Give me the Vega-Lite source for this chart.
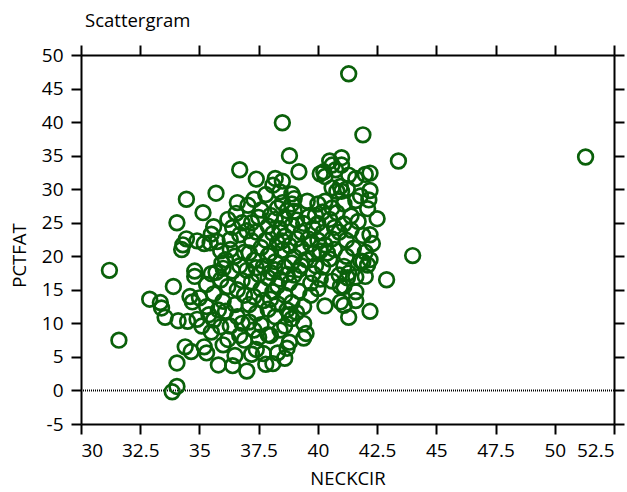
{
  "$schema": "https://vega.github.io/schema/vega-lite/v6.json",
  "width": 533,
  "height": 369,
  "autosize": {"type": "none"},
  "padding": {"left": 81, "top": 55, "right": 13, "bottom": 68},
  "background": "white",
  "title": {"text": "Scattergram", "anchor": "start", "frame": "group", "font": "Open Sans", "fontSize": 18.5, "fontWeight": "normal", "color": "black", "dx": 4, "offset": 14},
  "config": {
    "view": {"stroke": null},
    "axis": {"grid": false, "domainColor": "black", "domainWidth": 2, "tickColor": "black", "tickWidth": 2, "tickSize": 10, "labelFont": "Open Sans", "labelFontSize": 19, "labelColor": "black", "titleFont": "Open Sans", "titleFontSize": 18.5, "titleFontWeight": "normal", "titleColor": "black"}
  },
  "data": {"values": [
    {"NECKCIR":31.2,"PCTFAT":17.9},{"NECKCIR":31.6,"PCTFAT":7.5},{"NECKCIR":32.9,"PCTFAT":13.6},{"NECKCIR":33.35,"PCTFAT":13.1},{"NECKCIR":33.55,"PCTFAT":10.9},{"NECKCIR":33.9,"PCTFAT":15.5},{"NECKCIR":33.85,"PCTFAT":-0.2},{"NECKCIR":34.05,"PCTFAT":0.6},{"NECKCIR":34.05,"PCTFAT":4.1},{"NECKCIR":33.4,"PCTFAT":12.3},
    {"NECKCIR":34.1,"PCTFAT":10.4},{"NECKCIR":34.5,"PCTFAT":10.3},{"NECKCIR":34.4,"PCTFAT":6.5},{"NECKCIR":34.65,"PCTFAT":5.8},{"NECKCIR":34.6,"PCTFAT":14.0},{"NECKCIR":34.8,"PCTFAT":17.0},{"NECKCIR":34.3,"PCTFAT":21.7},{"NECKCIR":34.25,"PCTFAT":21.0},{"NECKCIR":34.45,"PCTFAT":22.6},{"NECKCIR":34.05,"PCTFAT":25.0},{"NECKCIR":34.45,"PCTFAT":28.5},{"NECKCIR":34.9,"PCTFAT":10.6},{"NECKCIR":34.7,"PCTFAT":13.2},{"NECKCIR":34.9,"PCTFAT":22.3},{"NECKCIR":34.8,"PCTFAT":17.8},
    {"NECKCIR":35.2,"PCTFAT":6.5},{"NECKCIR":35.3,"PCTFAT":5.6},{"NECKCIR":35.8,"PCTFAT":3.8},{"NECKCIR":35.15,"PCTFAT":26.5},{"NECKCIR":35.7,"PCTFAT":29.4},{"NECKCIR":35.6,"PCTFAT":24.4},{"NECKCIR":35.45,"PCTFAT":22.0},{"NECKCIR":35.2,"PCTFAT":21.9},{"NECKCIR":35.75,"PCTFAT":22.2},{"NECKCIR":35.0,"PCTFAT":13.8},{"NECKCIR":35.3,"PCTFAT":12.5},{"NECKCIR":35.6,"PCTFAT":10.5},{"NECKCIR":35.1,"PCTFAT":9.6},{"NECKCIR":35.5,"PCTFAT":8.7},{"NECKCIR":35.9,"PCTFAT":9.5},{"NECKCIR":35.4,"PCTFAT":11.3},{"NECKCIR":35.8,"PCTFAT":12.0},{"NECKCIR":35.7,"PCTFAT":17.6},{"NECKCIR":35.5,"PCTFAT":17.4},{"NECKCIR":35.9,"PCTFAT":16.5},{"NECKCIR":35.9,"PCTFAT":20.8},{"NECKCIR":35.6,"PCTFAT":14.4},{"NECKCIR":35.3,"PCTFAT":15.8},{"NECKCIR":35.95,"PCTFAT":19.0},{"NECKCIR":35.5,"PCTFAT":23.3},
    {"NECKCIR":36.4,"PCTFAT":3.7},{"NECKCIR":37.0,"PCTFAT":2.9},{"NECKCIR":36.55,"PCTFAT":26.4},{"NECKCIR":36.4,"PCTFAT":24.3},{"NECKCIR":36.3,"PCTFAT":22.5},{"NECKCIR":36.7,"PCTFAT":23.2},{"NECKCIR":36.0,"PCTFAT":18.2},{"NECKCIR":36.2,"PCTFAT":15.5},{"NECKCIR":36.4,"PCTFAT":17.8},{"NECKCIR":36.1,"PCTFAT":19.5},{"NECKCIR":36.5,"PCTFAT":20.0},{"NECKCIR":36.3,"PCTFAT":21.0},{"NECKCIR":36.7,"PCTFAT":18.6},{"NECKCIR":36.8,"PCTFAT":16.4},{"NECKCIR":36.9,"PCTFAT":14.2},{"NECKCIR":36.5,"PCTFAT":12.8},{"NECKCIR":36.6,"PCTFAT":11.0},{"NECKCIR":36.3,"PCTFAT":9.6},{"NECKCIR":36.7,"PCTFAT":8.2},{"NECKCIR":36.9,"PCTFAT":7.5},{"NECKCIR":36.2,"PCTFAT":7.6},{"NECKCIR":36.0,"PCTFAT":6.8},{"NECKCIR":36.7,"PCTFAT":32.9},{"NECKCIR":36.0,"PCTFAT":13.3},{"NECKCIR":36.5,"PCTFAT":5.2},{"NECKCIR":36.8,"PCTFAT":10.0},{"NECKCIR":36.1,"PCTFAT":11.8},{"NECKCIR":36.6,"PCTFAT":15.0},{"NECKCIR":36.9,"PCTFAT":20.6},{"NECKCIR":36.2,"PCTFAT":25.5},{"NECKCIR":36.8,"PCTFAT":25.0},{"NECKCIR":36.6,"PCTFAT":28.0},
    {"NECKCIR":37.05,"PCTFAT":27.6},{"NECKCIR":37.2,"PCTFAT":5.4},{"NECKCIR":37.4,"PCTFAT":31.5},{"NECKCIR":37.3,"PCTFAT":9.0},{"NECKCIR":37.5,"PCTFAT":7.9},{"NECKCIR":37.4,"PCTFAT":6.1},{"NECKCIR":37.7,"PCTFAT":5.5},{"NECKCIR":37.8,"PCTFAT":3.9},{"NECKCIR":37.9,"PCTFAT":12.1},{"NECKCIR":37.4,"PCTFAT":11.5},{"NECKCIR":37.1,"PCTFAT":12.8},{"NECKCIR":37.3,"PCTFAT":14.0},{"NECKCIR":37.6,"PCTFAT":15.1},{"NECKCIR":37.2,"PCTFAT":16.2},{"NECKCIR":37.5,"PCTFAT":17.3},{"NECKCIR":37.9,"PCTFAT":16.8},{"NECKCIR":37.7,"PCTFAT":18.5},{"NECKCIR":37.3,"PCTFAT":19.4},{"NECKCIR":37.1,"PCTFAT":20.5},{"NECKCIR":37.6,"PCTFAT":21.3},{"NECKCIR":37.8,"PCTFAT":22.4},{"NECKCIR":37.4,"PCTFAT":23.6},{"NECKCIR":37.2,"PCTFAT":25.0},{"NECKCIR":37.5,"PCTFAT":25.8},{"NECKCIR":37.9,"PCTFAT":24.5},{"NECKCIR":37.8,"PCTFAT":29.2},{"NECKCIR":37.3,"PCTFAT":28.5},{"NECKCIR":37.1,"PCTFAT":10.2},{"NECKCIR":37.6,"PCTFAT":9.8},{"NECKCIR":37.9,"PCTFAT":8.3},{"NECKCIR":37.0,"PCTFAT":17.9},{"NECKCIR":37.4,"PCTFAT":18.3},{"NECKCIR":37.7,"PCTFAT":13.4},{"NECKCIR":37.9,"PCTFAT":20.1},{"NECKCIR":37.2,"PCTFAT":22.3},{"NECKCIR":37.6,"PCTFAT":26.9},{"NECKCIR":37.0,"PCTFAT":23.8},
    {"NECKCIR":38.3,"PCTFAT":5.6},{"NECKCIR":38.1,"PCTFAT":4.0},{"NECKCIR":38.6,"PCTFAT":4.8},{"NECKCIR":38.7,"PCTFAT":6.3},{"NECKCIR":38.8,"PCTFAT":7.2},{"NECKCIR":38.9,"PCTFAT":10.7},{"NECKCIR":38.2,"PCTFAT":11.0},{"NECKCIR":38.2,"PCTFAT":25.5},{"NECKCIR":38.4,"PCTFAT":24.1},{"NECKCIR":38.6,"PCTFAT":23.0},{"NECKCIR":38.3,"PCTFAT":22.0},{"NECKCIR":38.0,"PCTFAT":20.5},{"NECKCIR":38.5,"PCTFAT":20.9},{"NECKCIR":38.2,"PCTFAT":19.2},{"NECKCIR":38.6,"PCTFAT":18.4},{"NECKCIR":38.0,"PCTFAT":17.6},{"NECKCIR":38.4,"PCTFAT":16.6},{"NECKCIR":38.8,"PCTFAT":16.0},{"NECKCIR":38.1,"PCTFAT":14.7},{"NECKCIR":38.6,"PCTFAT":14.2},{"NECKCIR":38.9,"PCTFAT":13.1},{"NECKCIR":38.3,"PCTFAT":12.9},{"NECKCIR":38.7,"PCTFAT":12.0},{"NECKCIR":38.9,"PCTFAT":24.6},{"NECKCIR":38.7,"PCTFAT":26.8},{"NECKCIR":38.3,"PCTFAT":27.2},{"NECKCIR":38.5,"PCTFAT":28.0},{"NECKCIR":38.9,"PCTFAT":29.3},{"NECKCIR":38.1,"PCTFAT":30.6},{"NECKCIR":38.5,"PCTFAT":31.2},{"NECKCIR":38.2,"PCTFAT":31.6},{"NECKCIR":38.5,"PCTFAT":39.9},{"NECKCIR":38.8,"PCTFAT":35.0},{"NECKCIR":38.4,"PCTFAT":9.0},{"NECKCIR":38.0,"PCTFAT":8.2},{"NECKCIR":38.6,"PCTFAT":9.6},{"NECKCIR":38.1,"PCTFAT":23.4},{"NECKCIR":38.8,"PCTFAT":21.6},{"NECKCIR":38.9,"PCTFAT":19.0},{"NECKCIR":38.3,"PCTFAT":15.6},{"NECKCIR":38.7,"PCTFAT":17.3},{"NECKCIR":38.0,"PCTFAT":26.1},{"NECKCIR":38.6,"PCTFAT":25.6},{"NECKCIR":38.9,"PCTFAT":27.8},{"NECKCIR":38.4,"PCTFAT":29.6},{"NECKCIR":38.0,"PCTFAT":13.6},{"NECKCIR":38.8,"PCTFAT":11.3},{"NECKCIR":38.2,"PCTFAT":18.0},{"NECKCIR":38.5,"PCTFAT":22.3},
    {"NECKCIR":39.4,"PCTFAT":7.8},{"NECKCIR":39.5,"PCTFAT":8.5},{"NECKCIR":39.1,"PCTFAT":11.6},{"NECKCIR":39.4,"PCTFAT":12.5},{"NECKCIR":39.2,"PCTFAT":14.8},{"NECKCIR":39.0,"PCTFAT":17.2},{"NECKCIR":39.3,"PCTFAT":18.6},{"NECKCIR":39.0,"PCTFAT":19.9},{"NECKCIR":39.5,"PCTFAT":19.5},{"NECKCIR":39.3,"PCTFAT":21.2},{"NECKCIR":39.7,"PCTFAT":21.8},{"NECKCIR":39.1,"PCTFAT":22.6},{"NECKCIR":39.4,"PCTFAT":24.9},{"NECKCIR":39.6,"PCTFAT":25.9},{"NECKCIR":39.0,"PCTFAT":26.7},{"NECKCIR":39.0,"PCTFAT":28.6},{"NECKCIR":39.2,"PCTFAT":32.6},{"NECKCIR":39.9,"PCTFAT":26.1},{"NECKCIR":39.8,"PCTFAT":17.4},{"NECKCIR":39.7,"PCTFAT":16.0},{"NECKCIR":39.7,"PCTFAT":14.2},{"NECKCIR":39.55,"PCTFAT":28.2},{"NECKCIR":39.3,"PCTFAT":23.6},{"NECKCIR":39.8,"PCTFAT":20.4},{"NECKCIR":39.2,"PCTFAT":18.0},{"NECKCIR":39.6,"PCTFAT":22.6},{"NECKCIR":39.1,"PCTFAT":25.4},{"NECKCIR":39.8,"PCTFAT":24.2},{"NECKCIR":39.4,"PCTFAT":10.0},{"NECKCIR":39.9,"PCTFAT":18.6},
    {"NECKCIR":40.0,"PCTFAT":22.4},{"NECKCIR":40.3,"PCTFAT":21.7},{"NECKCIR":40.6,"PCTFAT":22.6},{"NECKCIR":40.1,"PCTFAT":20.8},{"NECKCIR":40.5,"PCTFAT":19.6},{"NECKCIR":40.2,"PCTFAT":18.4},{"NECKCIR":40.0,"PCTFAT":15.2},{"NECKCIR":40.6,"PCTFAT":16.3},{"NECKCIR":40.9,"PCTFAT":17.2},{"NECKCIR":40.9,"PCTFAT":23.6},{"NECKCIR":40.8,"PCTFAT":26.5},{"NECKCIR":40.5,"PCTFAT":25.5},{"NECKCIR":40.2,"PCTFAT":26.6},{"NECKCIR":40.0,"PCTFAT":24.9},{"NECKCIR":40.7,"PCTFAT":24.3},{"NECKCIR":40.6,"PCTFAT":30.2},{"NECKCIR":40.3,"PCTFAT":31.9},{"NECKCIR":40.1,"PCTFAT":32.3},{"NECKCIR":40.6,"PCTFAT":33.6},{"NECKCIR":40.5,"PCTFAT":34.2},{"NECKCIR":40.25,"PCTFAT":32.6},{"NECKCIR":40.75,"PCTFAT":32.9},{"NECKCIR":40.95,"PCTFAT":30.4},{"NECKCIR":40.8,"PCTFAT":29.7},{"NECKCIR":40.3,"PCTFAT":28.2},{"NECKCIR":40.96,"PCTFAT":13.2},{"NECKCIR":40.95,"PCTFAT":15.5},{"NECKCIR":40.3,"PCTFAT":12.6},{"NECKCIR":40.4,"PCTFAT":20.5},{"NECKCIR":40.7,"PCTFAT":21.0},{"NECKCIR":40.2,"PCTFAT":23.5},{"NECKCIR":40.0,"PCTFAT":27.8},{"NECKCIR":40.6,"PCTFAT":27.2},{"NECKCIR":40.1,"PCTFAT":16.6},
    {"NECKCIR":41.0,"PCTFAT":34.7},{"NECKCIR":41.0,"PCTFAT":33.6},{"NECKCIR":41.3,"PCTFAT":32.1},{"NECKCIR":41.6,"PCTFAT":31.6},{"NECKCIR":41.24,"PCTFAT":30.1},{"NECKCIR":41.1,"PCTFAT":18.5},{"NECKCIR":41.3,"PCTFAT":17.5},{"NECKCIR":41.6,"PCTFAT":16.9},{"NECKCIR":41.8,"PCTFAT":19.3},{"NECKCIR":41.5,"PCTFAT":21.2},{"NECKCIR":41.2,"PCTFAT":22.4},{"NECKCIR":41.4,"PCTFAT":23.9},{"NECKCIR":41.9,"PCTFAT":23.1},{"NECKCIR":41.7,"PCTFAT":25.2},{"NECKCIR":41.6,"PCTFAT":28.3},{"NECKCIR":41.1,"PCTFAT":27.8},{"NECKCIR":41.0,"PCTFAT":29.7},{"NECKCIR":41.1,"PCTFAT":15.5},{"NECKCIR":41.6,"PCTFAT":13.4},{"NECKCIR":41.1,"PCTFAT":12.7},{"NECKCIR":41.25,"PCTFAT":16.8},{"NECKCIR":41.9,"PCTFAT":19.2},{"NECKCIR":41.3,"PCTFAT":10.9},{"NECKCIR":41.9,"PCTFAT":38.1},{"NECKCIR":41.3,"PCTFAT":47.2},{"NECKCIR":41.6,"PCTFAT":14.7},{"NECKCIR":41.4,"PCTFAT":26.0},{"NECKCIR":41.8,"PCTFAT":29.0},{"NECKCIR":41.2,"PCTFAT":20.0},{"NECKCIR":41.1,"PCTFAT":24.8},
    {"NECKCIR":42.0,"PCTFAT":32.2},{"NECKCIR":42.2,"PCTFAT":32.4},{"NECKCIR":42.2,"PCTFAT":29.8},{"NECKCIR":42.15,"PCTFAT":28.4},{"NECKCIR":42.1,"PCTFAT":27.1},{"NECKCIR":42.5,"PCTFAT":25.6},{"NECKCIR":42.2,"PCTFAT":23.2},{"NECKCIR":42.3,"PCTFAT":21.9},{"NECKCIR":42.2,"PCTFAT":19.5},{"NECKCIR":42.1,"PCTFAT":18.7},{"NECKCIR":42.0,"PCTFAT":20.6},{"NECKCIR":42.0,"PCTFAT":17.0},{"NECKCIR":42.2,"PCTFAT":11.8},{"NECKCIR":42.9,"PCTFAT":16.5},{"NECKCIR":43.4,"PCTFAT":34.2},{"NECKCIR":44.0,"PCTFAT":20.1},{"NECKCIR":51.3,"PCTFAT":34.8}
  ]},
  "layer": [
    {
      "mark": {"type": "rule", "color": "black", "strokeWidth": 2, "strokeDash": [1, 1]},
      "data": {"values": [{"zero": 0}]},
      "encoding": {"y": {"field": "zero", "type": "quantitative", "axis": null}}
    },
    {
      "mark": {"type": "point", "shape": "circle", "filled": false, "size": 216, "strokeWidth": 2.7, "color": "#0a600a", "opacity": 1},
      "encoding": {
        "x": {"field": "NECKCIR", "type": "quantitative", "scale": {"domain": [30, 52.5], "nice": false, "zero": false}, "axis": {"orient": "bottom", "values": [30, 32.5, 35, 37.5, 40, 42.5, 45, 47.5, 50, 52.5], "labelExpr": "'' + datum.value", "labelPadding": 7, "title": "NECKCIR", "titlePadding": 9}},
        "y": {"field": "PCTFAT", "type": "quantitative", "scale": {"domain": [-5, 50], "nice": false, "zero": false}, "axis": {"orient": "left", "values": [-5, 0, 5, 10, 15, 20, 25, 30, 35, 40, 45, 50], "labelExpr": "'' + datum.value", "labelPadding": 8, "title": "PCTFAT", "titlePadding": 12, "titleY": 200}}
      }
    },
    {
      "mark": {"type": "point", "opacity": 0},
      "data": {"values": [{"NECKCIR": 30, "PCTFAT": 0}]},
      "encoding": {
        "x": {"field": "NECKCIR", "type": "quantitative", "axis": {"orient": "top", "values": [30, 32.5, 35, 37.5, 40, 42.5, 45, 47.5, 50, 52.5], "labels": false, "title": null}},
        "y": {"field": "PCTFAT", "type": "quantitative", "axis": {"orient": "right", "values": [-5, 0, 5, 10, 15, 20, 25, 30, 35, 40, 45, 50], "labels": false, "title": null}}
      }
    }
  ],
  "resolve": {"axis": {"x": "independent", "y": "independent"}}
}
